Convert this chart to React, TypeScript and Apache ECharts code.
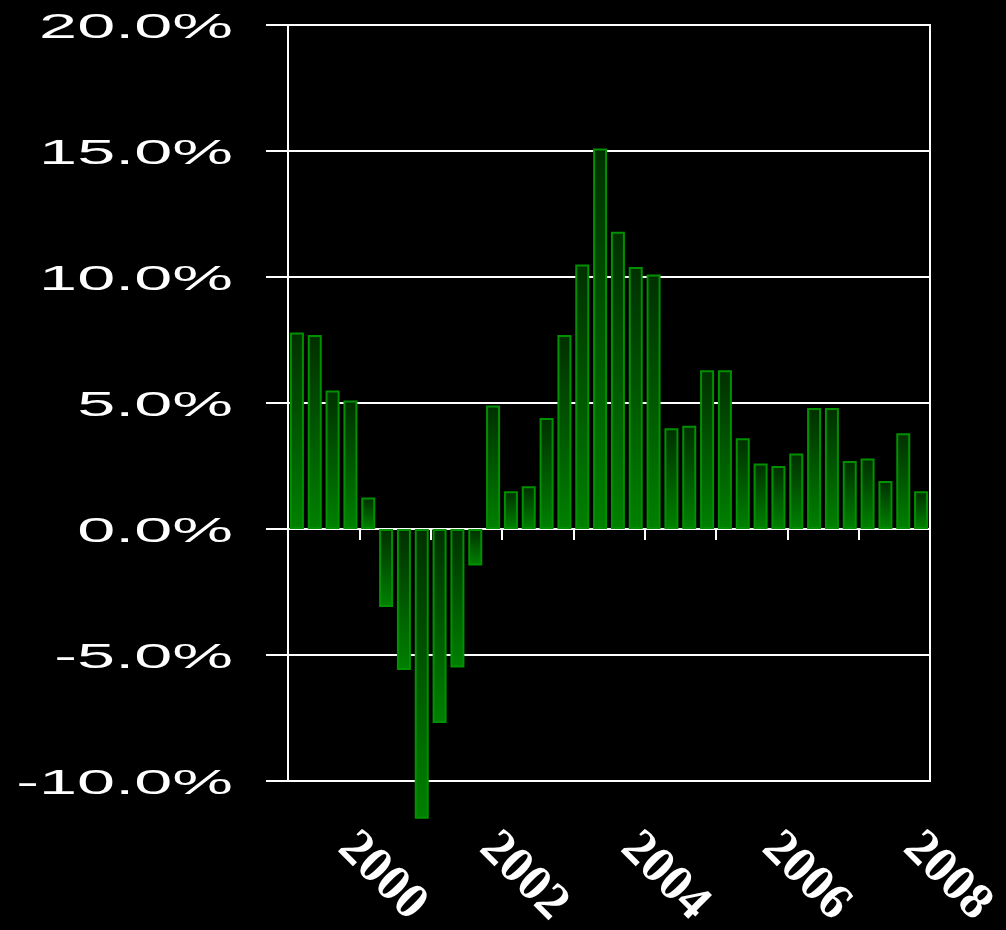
import React, { useEffect, useRef } from 'react';
import * as echarts from 'echarts';

// Quarterly periods, 1999 Q1 .. 2007 Q4
const quarters: string[] = [
  '1999 Q1', '1999 Q2', '1999 Q3', '1999 Q4',
  '2000 Q1', '2000 Q2', '2000 Q3', '2000 Q4',
  '2001 Q1', '2001 Q2', '2001 Q3', '2001 Q4',
  '2002 Q1', '2002 Q2', '2002 Q3', '2002 Q4',
  '2003 Q1', '2003 Q2', '2003 Q3', '2003 Q4',
  '2004 Q1', '2004 Q2', '2004 Q3', '2004 Q4',
  '2005 Q1', '2005 Q2', '2005 Q3', '2005 Q4',
  '2006 Q1', '2006 Q2', '2006 Q3', '2006 Q4',
  '2007 Q1', '2007 Q2', '2007 Q3', '2007 Q4',
];

// Growth rate, percent
const growthValues: number[] = [
  7.8, 7.7, 5.5, 5.1,
  1.25, -3.1, -5.6, -11.5,
  -7.7, -5.5, -1.45, 4.9,
  1.5, 1.7, 4.4, 7.7,
  10.5, 15.1, 11.8, 10.4,
  10.1, 4.0, 4.1, 6.3,
  6.3, 3.6, 2.6, 2.5,
  3.0, 4.8, 4.8, 2.7,
  2.8, 1.9, 3.8, 1.5,
];

const yTickValues: number[] = [-10, -5, 0, 5, 10, 15, 20];
const yTickLabels: string[] = ['-10.0%', '-5.0%', '0.0%', '5.0%', '10.0%', '15.0%', '20.0%'];

const xTickValues: number[] = [4, 12, 20, 28, 36];
const xTickLabels: string[] = ['2000', '2002', '2004', '2006', '2008'];

export default function App() {
  const ref = useRef<HTMLDivElement>(null);

  useEffect(() => {
    const chart = echarts.init(ref.current as HTMLDivElement, null, { renderer: 'svg' });
    const n = quarters.length;
    const gridBox = { left: 288, right: 76, top: 25, bottom: 149 };

    chart.setOption({
      animation: false,
      backgroundColor: '#000',
      grid: [
        { ...gridBox, show: true, borderColor: '#fff', borderWidth: 2, backgroundColor: 'transparent' },
        { ...gridBox, left: gridBox.left - 10, right: gridBox.right + 10, show: false },
      ],
      xAxis: [
        {
          type: 'value', gridIndex: 0, min: 0, max: n, interval: 4,
          axisLine: { show: true, onZero: true, lineStyle: { color: '#fff', width: 2 } },
          axisTick: { show: true, length: 11, lineStyle: { color: '#fff', width: 2 } },
          axisLabel: { show: false },
          splitLine: { show: false },
        },
        {
          type: 'value', gridIndex: 1, min: 0, max: n, interval: 4, position: 'bottom',
          axisLine: { show: false, onZero: false },
          axisTick: { show: false },
          splitLine: { show: false },
          axisLabel: {
            show: true, rotate: -45, margin: 68, color: '#fff',
            fontFamily: '"Liberation Serif", serif', fontSize: 51, fontWeight: 'bold',
            formatter: (v: number) => {
              const k = xTickValues.indexOf(v);
              return k >= 0 ? xTickLabels[k] : '';
            },
          },
        },
      ],
      yAxis: [
        {
          type: 'value', gridIndex: 0, min: -10, max: 20, interval: 5,
          axisLine: { show: true, lineStyle: { color: '#fff', width: 2 } },
          axisTick: { show: true, length: 22, lineStyle: { color: '#fff', width: 2 } },
          axisLabel: { show: false },
          splitLine: { show: true, lineStyle: { color: '#fff', width: 2 } },
        },
        {
          type: 'value', gridIndex: 1, min: -10, max: 20, show: false,
        },
      ],
      series: [
        {
          type: 'bar',
          name: 'Growth',
          xAxisIndex: 0,
          yAxisIndex: 0,
          barWidth: 14,
          clip: false,
          data: growthValues.map((v, i) => [i + 0.5, v]),
          itemStyle: {
            color: new echarts.graphic.LinearGradient(0, 0, 0, 1, [
              { offset: 0, color: '#003000' },
              { offset: 1, color: '#008000' },
            ]),
            borderColor: '#009000',
            borderWidth: 2,
          },
        },
      ],
    });

    const labels = yTickValues.map((v, i) => {
      const py = chart.convertToPixel({ yAxisIndex: 0 }, v) as number;
      return {
        type: 'text',
        x: 233,
        y: py + 1,
        scaleX: 1.9,
        style: {
          text: yTickLabels[i],
          fill: '#fff',
          font: '36px "Liberation Sans", Arial, sans-serif',
          align: 'right',
          verticalAlign: 'middle',
        },
      };
    });
    chart.setOption({ graphic: labels });

    return () => chart.dispose();
  }, []);

  return (
    <div
      ref={ref}
      style={{ position: 'fixed', left: 0, top: 0, width: 1006, height: 930, background: '#000' }}
    />
  );
}
